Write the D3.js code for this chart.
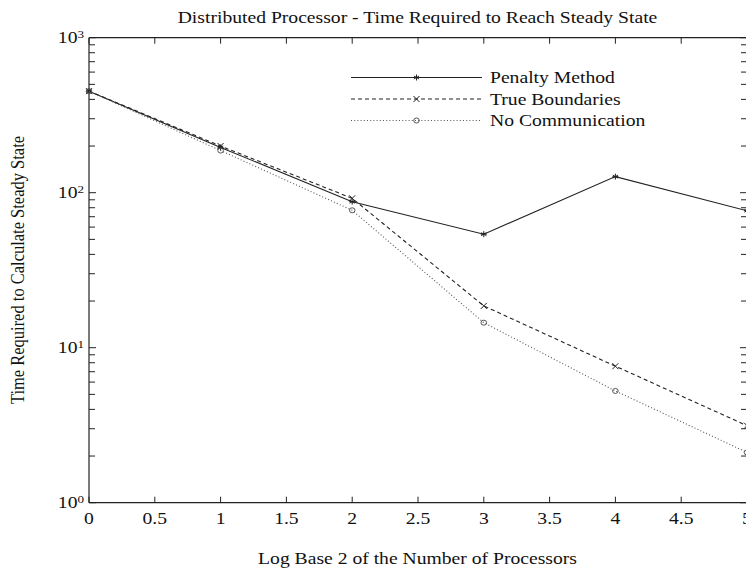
<!DOCTYPE html>
<html><head><meta charset="utf-8">
<script src="https://cdn.jsdelivr.net/npm/d3@7"></script>
<style>
html,body{margin:0;padding:0;background:#fff;}
svg{display:block;}
text{font-family:"Liberation Serif","Times New Roman",serif;fill:#111;}
</style></head>
<body>
<svg id="chart" width="746" height="569"></svg>
<script>
const xValues = [0, 1, 2, 3, 4, 5];
const penaltyMethod = [452, 196, 87.5, 54, 127, 76.5];
const trueBoundaries = [452, 200, 92, 18.6, 7.6, 3.14];
const noCommunication = [452, 187, 77, 14.5, 5.26, 2.11];
const xTicks = [0, 0.5, 1, 1.5, 2, 2.5, 3, 3.5, 4, 4.5, 5];
const xTickLabels = ["0", "0.5", "1", "1.5", "2", "2.5", "3", "3.5", "4", "4.5", "5"];
const yMajor = [1, 10, 100, 1000];
const yExp = ["0", "1", "2", "3"];
const seriesNames = ["Penalty Method", "True Boundaries", "No Communication"];

const svg = d3.select("#chart");
const L = 89, R = 747, T = 37.7, B = 502.7;
const x = d3.scaleLinear().domain([0, 5]).range([L, R]);
const y = d3.scaleLog().domain([1, 1000]).range([B, T]);
const axisColor = "#222";
const FS = 16.5, SX = 1.19;

// horizontally stretched text helper
function stext(parent, tx, ty, anchor, size) {
  return parent.append("text")
    .attr("transform", `translate(${tx},${ty}) scale(${SX},1)`)
    .attr("text-anchor", anchor).attr("font-size", size);
}

const minor = [];
for (let e = 0; e < 3; e++) for (let k = 2; k <= 9; k++) minor.push(k * Math.pow(10, e));

const g = svg.append("g");
[[L, T, L, B], [L, B, R, B], [L, T, R, T], [R, T, R, B]].forEach(c => {
  g.append("line").attr("x1", c[0]).attr("y1", c[1]).attr("x2", c[2]).attr("y2", c[3])
    .attr("stroke", axisColor).attr("stroke-width", 1.2);
});

xTicks.forEach(v => {
  g.append("line").attr("x1", x(v)).attr("x2", x(v)).attr("y1", B).attr("y2", B - 6).attr("stroke", axisColor);
  g.append("line").attr("x1", x(v)).attr("x2", x(v)).attr("y1", T).attr("y2", T + 6).attr("stroke", axisColor);
});
xTicks.forEach((v, i) => {
  stext(g, x(v), 523.5, "middle", FS).text(xTickLabels[i]);
});
yMajor.forEach(v => {
  g.append("line").attr("x1", L).attr("x2", L + 7).attr("y1", y(v)).attr("y2", y(v)).attr("stroke", axisColor);
  g.append("line").attr("x1", R).attr("x2", R - 7).attr("y1", y(v)).attr("y2", y(v)).attr("stroke", axisColor);
});
minor.forEach(v => {
  g.append("line").attr("x1", L).attr("x2", L + 6).attr("y1", y(v)).attr("y2", y(v)).attr("stroke", axisColor);
  g.append("line").attr("x1", R).attr("x2", R - 6).attr("y1", y(v)).attr("y2", y(v)).attr("stroke", axisColor);
});
yMajor.forEach((v, i) => {
  const t = stext(g, L - 5, y(v) + 5.6, "end", FS);
  t.append("tspan").text("10");
  t.append("tspan").attr("font-size", 11).attr("dy", -5.5).text(yExp[i]);
});

const line = d3.line().x((d, i) => x(xValues[i])).y(d => y(d));
const styles = [
  {data: penaltyMethod, dash: null, color: "#222", marker: "star"},
  {data: trueBoundaries, dash: "4,3", color: "#222", marker: "x"},
  {data: noCommunication, dash: "1,2.2", color: "#555", marker: "o"}
];
function marker(sel, type, cx, cy, color) {
  const s = 3;
  if (type === "star") {
    let p = "";
    for (let a = 0; a < 3; a++) {
      const ang = Math.PI / 2 + a * Math.PI / 3;
      p += `M${cx + s * Math.cos(ang)},${cy + s * Math.sin(ang)}L${cx - s * Math.cos(ang)},${cy - s * Math.sin(ang)}`;
    }
    p += `M${cx - s},${cy}L${cx + s},${cy}`;
    sel.append("path").attr("d", p).attr("stroke", color).attr("stroke-width", 1).attr("fill", "none");
  } else if (type === "x") {
    sel.append("path").attr("d", `M${cx - s},${cy - s}L${cx + s},${cy + s}M${cx - s},${cy + s}L${cx + s},${cy - s}`)
      .attr("stroke", color).attr("stroke-width", 1).attr("fill", "none");
  } else {
    sel.append("ellipse").attr("cx", cx).attr("cy", cy).attr("rx", 2.8).attr("ry", 2.5).attr("stroke", color).attr("stroke-width", 1).attr("fill", "none");
  }
}
styles.forEach(st => {
  g.append("path").datum(st.data).attr("d", line).attr("fill", "none")
    .attr("stroke", st.color).attr("stroke-width", 1.1).attr("stroke-dasharray", st.dash);
  st.data.forEach((d, i) => marker(g, st.marker, x(xValues[i]), y(d), st.color));
});

const legY = [77.5, 99, 120.5];
styles.forEach((st, i) => {
  g.append("line").attr("x1", 351).attr("x2", 482).attr("y1", legY[i]).attr("y2", legY[i])
    .attr("stroke", st.color).attr("stroke-width", 1.1).attr("stroke-dasharray", st.dash);
  marker(g, st.marker, 416.5, legY[i], st.color);
  stext(g, 490, legY[i] + 5.5, "start", FS).text(seriesNames[i]);
});

stext(svg, 417.5, 23, "middle", FS).text("Distributed Processor - Time Required to Reach Steady State");
stext(svg, 417.5, 564, "middle", FS).text("Log Base 2 of the Number of Processors");
svg.append("text").attr("transform", "translate(24,270) rotate(-90) scale(1,1.15)")
  .attr("text-anchor", "middle").attr("font-size", 16.5)
  .text("Time Required to Calculate Steady State");
</script>
</body></html>
